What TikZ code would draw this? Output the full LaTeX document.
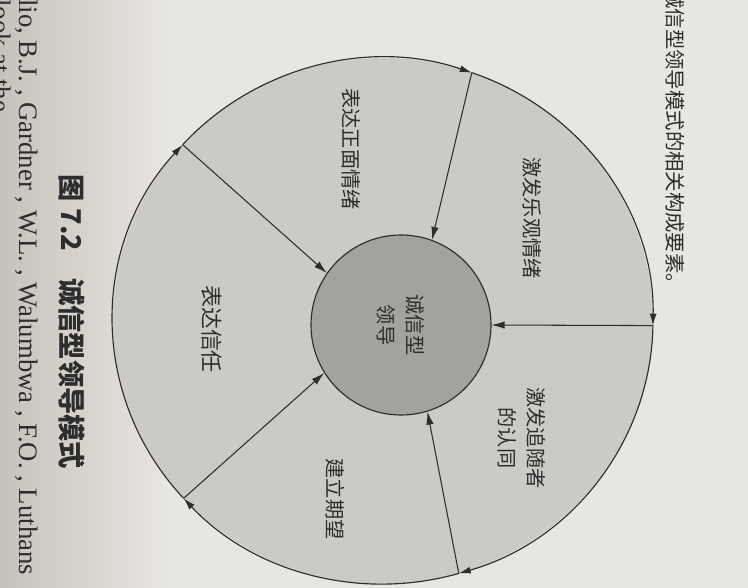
\documentclass[tikz,border=0pt]{standalone}
\usepackage{fontspec}
\setmainfont{Liberation Serif}
\newfontfamily\cjk{Noto Sans CJK SC}
\usetikzlibrary{arrows.meta}
\usetikzlibrary{calc}
\definecolor{paper}{RGB}{232,230,225}
\definecolor{papershade}{RGB}{198,194,187}
\definecolor{ring}{RGB}{203,202,198}
\definecolor{core}{RGB}{163,162,158}
\definecolor{ink}{RGB}{45,45,45}

\begin{document}
\begin{tikzpicture}[x=0.2mm,y=0.2mm]
      \useasboundingbox (0,0) rectangle (748,-588);
      \clip (0,0) rectangle (748,-588);
      \fill [paper] (0,0) rectangle (748,-588);
      \shade [left color=papershade, right color=paper] (0,0) rectangle (170,-588);
      % text of the page
      \tikzstyle {pagetext} = [rotate=-90, anchor=base west, inner sep=0, text=ink, font=\fontsize{15.2}{18}\selectfont];
      \node (prevline) [pagetext] at (19,1) {lio, B.J. , Gardner , W.L. , Walumbwa , F.O. , Luthans};
      \node (nextline) [pagetext] at (-8,1) {look at the};
      \node (intro) [rotate=-90, anchor=west, inner sep=0, text=ink, font=\cjk\fontsize{11.6}{14}\selectfont] at (675,12) {诚信型领导模式的相关构成要素。};
      \node (caption) [rotate=-90, text=ink, font=\cjk\bfseries\fontsize{15.5}{18}\selectfont] at (72,-322) {图 7.2\quad 诚信型领导模式};
      % the wheel
      \coordinate (O) at (383,-321);
      \fill [ring] (O) ellipse [x radius=270, y radius=263];
      \coordinate (e1) at ($(O)+(70.8:270 and 263)$);
      \coordinate (e2) at ($(O)+(-1:270 and 263)$);
      \coordinate (e3) at ($(O)+(-73.7:270 and 263)$);
      \coordinate (e4) at ($(O)+(-137.6:270 and 263)$);
      \coordinate (e5) at ($(O)+(137.9:270 and 263)$);
      \tikzstyle {rim} = [draw=ink, line width=0.65pt, -{Latex[length=2.4mm,width=1.4mm]}];
      \draw [rim] (e5) arc [start angle=137.9, end angle=70.8, x radius=270, y radius=263];
      \draw [rim] (e1) arc [start angle=70.8, end angle=-1, x radius=270, y radius=263];
      \draw [rim] (e2) arc [start angle=-1, end angle=-73.7, x radius=270, y radius=263];
      \draw [rim] (e3) arc [start angle=-73.7, end angle=-137.6, x radius=270, y radius=263];
      \draw [rim] (e4) arc [start angle=-137.6, end angle=-222.1, x radius=270, y radius=263];
      \node (lead) [circle, draw=ink, fill=core, line width=0.65pt, minimum size=36mm, inner sep=0] at (401,-325) {};
      \tikzstyle {spoke} = [draw=ink, line width=0.6pt, -{Latex[length=2.6mm,width=1.5mm]}];
      \draw [spoke] (e1) -- (lead.70.6);
      \draw [spoke] (e2) -- (lead.0);
      \draw [spoke] (e3) -- (lead.-73.5);
      \draw [spoke] (e4) -- (lead.212.7);
      \draw [spoke] (e5) -- (lead.145.1);
      % parts of the model
      \tikzstyle {parttext} = [rotate=-90, align=center, text=ink, font=\cjk\fontsize{11.5}{16.5}\selectfont];
      \node (emotion) [parttext] at (351,-149) {表达正面情绪};
      \node (optimism) [parttext] at (532,-218) {激发乐观情绪};
      \node (identity) [parttext] at (522,-438) {激发追随者\\的认同};
      \node (expect) [parttext] at (335,-499) {建立期望};
      \node (trust) [parttext, font=\cjk\fontsize{12.5}{16}\selectfont] at (212,-329) {表达信任};
      \node (leadtext) [parttext] at (lead.center) {诚信型\\领导};
    \end{tikzpicture}
\end{document}
